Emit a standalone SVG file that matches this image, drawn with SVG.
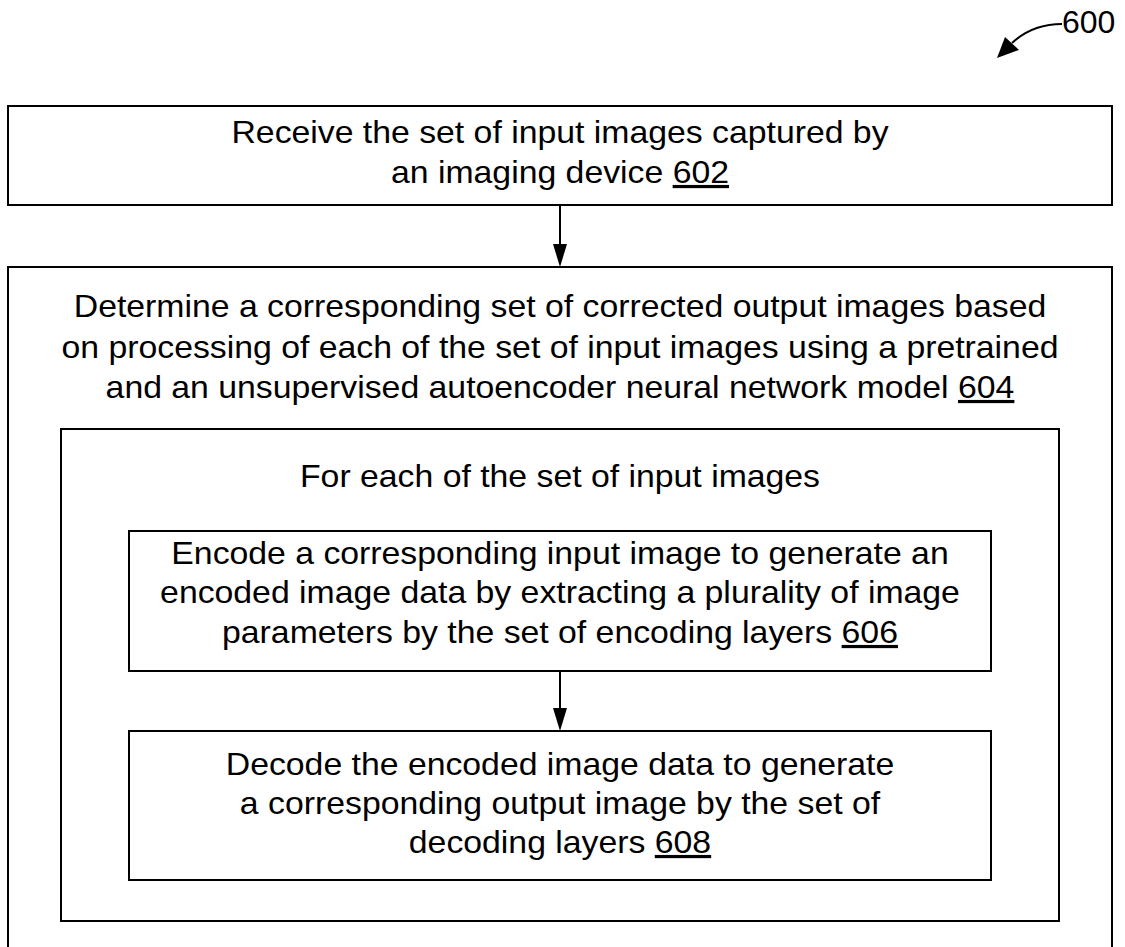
<svg xmlns="http://www.w3.org/2000/svg" width="1125" height="947" viewBox="0 0 1125 947">
<style>
.box{fill:#fff;stroke:#000;stroke-width:2}
.t{font-family:"Liberation Sans",Arial,sans-serif;font-size:32px;fill:#000;text-anchor:middle}
.c{stroke:#000;stroke-width:2;fill:none}
</style>
<rect width="1125" height="947" fill="#fff"/>
<g id="label600">
<text x="1062" y="33" style="font-family:'Liberation Sans',Arial,sans-serif;font-size:32px">600</text>
<path class="c" d="M1062,24 C1042,24 1026,30 1012,43"/>
<path d="M997,58 L1005,37 L1019,50 Z" fill="#000"/>
</g>
<g id="n602">
<rect class="box" x="8" y="106" width="1104" height="99"/>
<g transform="translate(560,0) scale(1.056,1) translate(-560,0)">
<text class="t" x="560" y="143">Receive the set of input images captured by</text>
<text class="t" x="560" y="183">an imaging device <tspan text-decoration="underline">602</tspan></text>
</g>
</g>
<g id="n604">
<rect class="box" x="8" y="267" width="1104" height="700"/>
<g transform="translate(560,0) scale(1.056,1) translate(-560,0)">
<text class="t" x="560" y="317">Determine a corresponding set of corrected output images based</text>
<text class="t" x="560" y="358">on processing of each of the set of input images using a pretrained</text>
<text class="t" x="560" y="398">and an unsupervised autoencoder neural network model <tspan text-decoration="underline">604</tspan></text>
</g>
</g>
<g id="loop">
<rect class="box" x="61" y="429" width="998" height="492"/>
<g transform="translate(560,0) scale(1.056,1) translate(-560,0)">
<text class="t" x="560" y="487">For each of the set of input images</text>
</g>
</g>
<g id="n606">
<rect class="box" x="129" y="531" width="862" height="140"/>
<g transform="translate(560,0) scale(1.056,1) translate(-560,0)">
<text class="t" x="560" y="564">Encode a corresponding input image to generate an</text>
<text class="t" x="560" y="603">encoded image data by extracting a plurality of image</text>
<text class="t" x="560" y="643">parameters by the set of encoding layers <tspan text-decoration="underline">606</tspan></text>
</g>
</g>
<g id="n608">
<rect class="box" x="129" y="731" width="862" height="149"/>
<g transform="translate(560,0) scale(1.056,1) translate(-560,0)">
<text class="t" x="560" y="775">Decode the encoded image data to generate</text>
<text class="t" x="560" y="814">a corresponding output image by the set of</text>
<text class="t" x="560" y="853">decoding layers <tspan text-decoration="underline">608</tspan></text>
</g>
</g>
<g id="connectors">
<line class="c" x1="560" y1="205" x2="560" y2="246"/>
<path d="M553,244 L567,244 L560,267 Z" fill="#000"/>
<line class="c" x1="560" y1="671" x2="560" y2="710"/>
<path d="M553,708 L567,708 L560,731 Z" fill="#000"/>
</g>
</svg>
